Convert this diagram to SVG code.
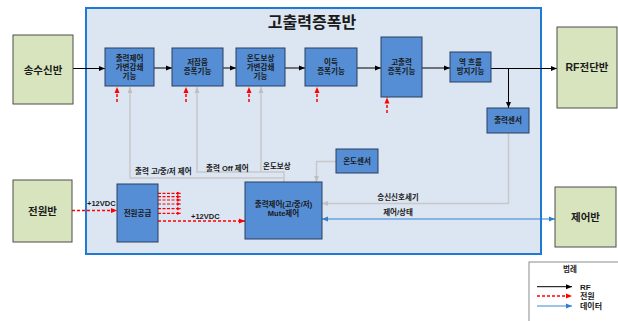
<svg xmlns="http://www.w3.org/2000/svg" width="618" height="321" viewBox="0 0 618 321">
<defs>
<style>
text{font-family:"Liberation Sans","Noto Sans CJK KR",sans-serif;font-weight:bold;fill:#1a1a1a;}
.bx{fill:#558ed5;stroke:#2a3f5f;stroke-width:1;}
.ext{fill:#d7e4bd;stroke:#4d4d4d;stroke-width:1;}
.bt{font-size:7.5px;text-anchor:middle;}
.et{font-size:10.5px;text-anchor:middle;}
.lb{font-size:7.5px;}
.rf{fill:none;stroke:#000;stroke-width:1;}
.pw{fill:none;stroke:#ff0000;stroke-width:1.5;stroke-dasharray:3,2;}
.pws{fill:none;stroke:#ff0000;stroke-width:1.2;stroke-dasharray:3,1.5;}
.gr{fill:none;stroke:#c8c8c8;stroke-width:1.5;}
.dt{fill:none;stroke:#2e7fd0;stroke-width:1.2;}
</style>
<marker id="ak" viewBox="0 0 6 6" refX="6" refY="3" markerWidth="6" markerHeight="6" orient="auto" markerUnits="userSpaceOnUse"><path d="M0,0.5 L6,3 L0,5.5 z" fill="#000"/></marker>
<marker id="ar" viewBox="0 0 6 6" refX="6" refY="3" markerWidth="6" markerHeight="6" orient="auto" markerUnits="userSpaceOnUse"><path d="M0,0.5 L6,3 L0,5.5 z" fill="#ff0000"/></marker>
<marker id="ars" viewBox="0 0 6 6" refX="6" refY="3" markerWidth="4" markerHeight="4" orient="auto" markerUnits="userSpaceOnUse"><path d="M0,0.5 L6,3 L0,5.5 z" fill="#ff0000"/></marker>
<marker id="ag" viewBox="0 0 6 6" refX="6" refY="3" markerWidth="6" markerHeight="6" orient="auto" markerUnits="userSpaceOnUse"><path d="M0,0.5 L6,3 L0,5.5 z" fill="#bfbfbf"/></marker>
<marker id="ab" viewBox="0 0 6 6" refX="6" refY="3" markerWidth="6" markerHeight="6" orient="auto-start-reverse" markerUnits="userSpaceOnUse"><path d="M0,0.5 L6,3 L0,5.5 z" fill="#2e7fd0"/></marker>
</defs>
<rect width="618" height="321" fill="#ffffff"/>

<g id="hpa">
<rect x="86" y="8" width="455" height="246" fill="#dce6f2" stroke="#1e7ad2" stroke-width="2"/>
<text x="312" y="28" font-size="16" text-anchor="middle">고출력증폭반</text>
</g>

<g id="connectors">
<!-- RF -->
<path class="rf" d="M73,68.5 H105" marker-end="url(#ak)"/>
<path class="rf" d="M154,68 H172" marker-end="url(#ak)"/>
<path class="rf" d="M223,68 H236" marker-end="url(#ak)"/>
<path class="rf" d="M285,68 H305" marker-end="url(#ak)"/>
<path class="rf" d="M357,68 H381" marker-end="url(#ak)"/>
<path class="rf" d="M422,68 H450" marker-end="url(#ak)"/>
<path class="rf" d="M491,68.5 H557" marker-end="url(#ak)"/>
<path class="rf" d="M508.5,68.5 V108" marker-end="url(#ak)"/>
<!-- power up arrows -->
<path class="pw" d="M117,102 V87" marker-end="url(#ar)"/>
<path class="pw" d="M186,102 V87" marker-end="url(#ar)"/>
<path class="pw" d="M249,102 V87" marker-end="url(#ar)"/>
<path class="pw" d="M317,102 V87" marker-end="url(#ar)"/>
<path class="pw" d="M387,113 V97.5" marker-end="url(#ar)"/>
<!-- power supply -->
<path class="pw" d="M72,210.5 H117" marker-end="url(#ar)"/>
<path class="pws" d="M158,193.3 H181" marker-end="url(#ars)"/>
<path class="pws" d="M158,196.7 H181" marker-end="url(#ars)"/>
<path class="pws" d="M158,200 H181" marker-end="url(#ars)"/>
<path class="pws" d="M158,204 H181" marker-end="url(#ars)"/>
<path class="pws" d="M158,208.7 H181" marker-end="url(#ars)"/>
<path class="pws" d="M158,213.3 H181" marker-end="url(#ars)"/>
<path class="pw" d="M158,221 H245" marker-end="url(#ar)"/>
<!-- control grey -->
<path class="gr" d="M284,182 V178 H130 V87" marker-end="url(#ag)"/>
<path class="gr" d="M284,178 V172 H197 V87" marker-end="url(#ag)"/>
<path class="gr" d="M261,172 V87" marker-end="url(#ag)"/>
<path class="gr" d="M336,161.5 H316.5 V182" marker-end="url(#ag)"/>
<path class="gr" d="M508.5,133 V203.5 H322" marker-end="url(#ag)"/>
<!-- data -->
<path class="dt" d="M322,219 H555" marker-start="url(#ab)" marker-end="url(#ab)"/>
</g>

<g id="labels">
<text class="lb" x="135" y="174">출력 고/중/저 제어</text>
<text class="lb" x="206" y="171">출력 Off 제어</text>
<text class="lb" x="263" y="169">온도보상</text>
<text class="lb" x="87" y="206" font-size="8">+12VDC</text>
<text class="lb" x="191" y="218.5" font-size="8">+12VDC</text>
<text class="lb" x="398" y="200" text-anchor="middle">송신신호세기</text>
<text class="lb" x="398" y="214.5" text-anchor="middle">제어/상태</text>
</g>

<g id="n_txrx"><rect class="ext" x="13" y="35" width="60" height="69"/><text class="et" x="43" y="73.5">송수신반</text></g>
<g id="n_rffront"><rect class="ext" x="557" y="27" width="60" height="81"/><text class="et" x="587" y="71">RF전단반</text></g>
<g id="n_power"><rect class="ext" x="13" y="180" width="59" height="62"/><text class="et" x="42.5" y="214.5">전원반</text></g>
<g id="n_ctrl"><rect class="ext" x="555" y="187" width="61" height="60"/><text class="et" x="585.5" y="221">제어반</text></g>

<g id="b1"><rect class="bx" x="105" y="48" width="49" height="38"/><text class="bt" x="129.5" y="60.7">출력제어</text><text class="bt" x="129.5" y="69.7">가변감쇄</text><text class="bt" x="129.5" y="78.7">기능</text></g>
<g id="b2"><rect class="bx" x="172" y="48" width="51" height="38"/><text class="bt" x="197.5" y="65.4">저잡음</text><text class="bt" x="197.5" y="74.4">증폭기능</text></g>
<g id="b3"><rect class="bx" x="236" y="48" width="49" height="38"/><text class="bt" x="260.5" y="60.7">온도보상</text><text class="bt" x="260.5" y="69.7">가변감쇄</text><text class="bt" x="260.5" y="78.7">기능</text></g>
<g id="b4"><rect class="bx" x="305" y="48" width="52" height="38"/><text class="bt" x="331" y="65.4">이득</text><text class="bt" x="331" y="74.4">증폭기능</text></g>
<g id="b5"><rect class="bx" x="381" y="37" width="41" height="60"/><text class="bt" x="401.5" y="65.4">고출력</text><text class="bt" x="401.5" y="74.4">증폭기능</text></g>
<g id="b6"><rect class="bx" x="450" y="52" width="41" height="30"/><text class="bt" x="470.5" y="65.4">역 흐름</text><text class="bt" x="470.5" y="74.4">방지기능</text></g>
<g id="b_outsensor"><rect class="bx" x="487" y="108" width="42" height="25"/><text class="bt" x="508" y="123">출력센서</text></g>
<g id="b_tempsensor"><rect class="bx" x="336" y="149" width="42" height="24"/><text class="bt" x="357" y="163.7">온도센서</text></g>
<g id="b_psu"><rect class="bx" x="117" y="184" width="41" height="58"/><text class="bt" x="137.5" y="215.5">전원공급</text></g>
<g id="b_mute"><rect class="bx" x="245" y="182" width="77" height="57"/><text class="bt" x="283.5" y="207">출력제어(고/중/저)</text><text class="bt" x="283.5" y="216">Mute제어</text></g>

<g id="legend">
<rect x="529" y="262" width="95" height="65" fill="#ffffff" stroke="#8c8c8c" stroke-width="1"/>
<text x="570" y="272" font-size="7.5" text-anchor="middle">범례</text>
<path class="rf" d="M537,286.7 H572" marker-end="url(#ak)"/>
<path class="pw" d="M537,296 H572" marker-end="url(#ar)"/>
<path d="M537,306 H572" fill="none" stroke="#9dc3e6" stroke-width="2.2" marker-end="url(#ab)"/>
<text x="580" y="289.5" font-size="8">RF</text>
<text x="580" y="299" font-size="8">전원</text>
<text x="580" y="309" font-size="8">데이터</text>
</g>
</svg>
